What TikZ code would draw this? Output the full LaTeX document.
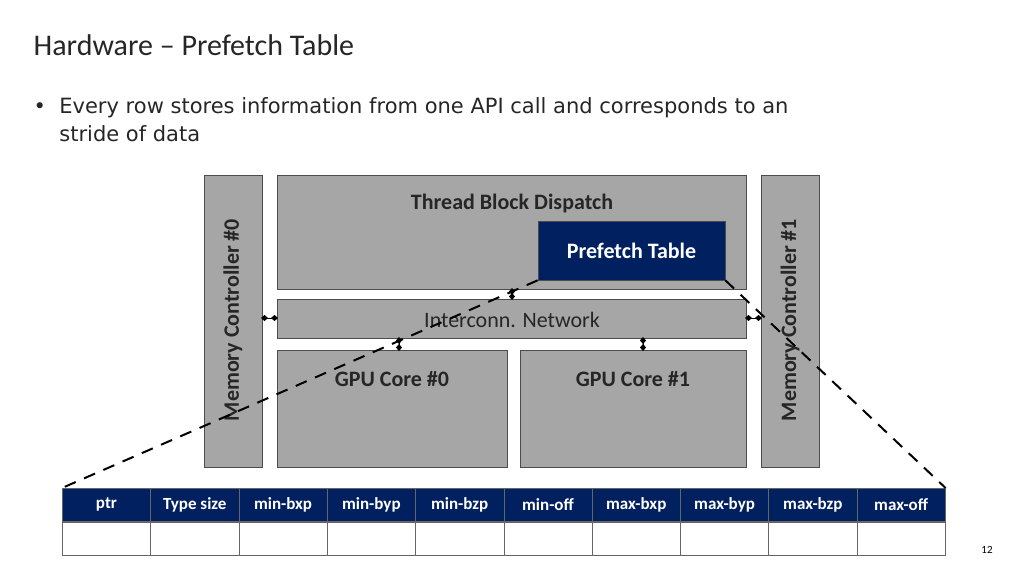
\documentclass[tikz,border=0pt]{standalone}
\usepackage{fontspec}
\setmainfont{Carlito}
\newfontfamily\bodyfont{DejaVu Sans}
\usetikzlibrary{positioning, arrows.meta}
\definecolor{boxgray}{RGB}{166,166,166}
\definecolor{navyblue}{RGB}{0,32,96}
\definecolor{titlegray}{RGB}{38,38,38}

\begin{document}
\begin{tikzpicture}[x=1pt, y=-1pt, semithick,
                block/.style ={draw=black!70, fill=boxgray, line width=0.8pt},
                blabel/.style ={font=\fontsize{22}{24}\selectfont\bfseries, text=black!85},
                link/.style ={{Diamond[length=7pt,width=6pt]}-{Diamond[length=7pt,width=6pt]}, line width=0.8pt, shorten <=-1pt, shorten >=-1pt},
                cell/.style ={draw=black!60, minimum width=88.3pt, minimum height=33pt, inner sep=0pt}]
            \useasboundingbox (0,0) rectangle (1024,576);

            % title and bullet
            \node[anchor=west, text=titlegray, font=\fontsize{30}{32}\selectfont] (title) at (30,45) {Hardware -- Prefetch Table};
            \node[anchor=north west, font=\bodyfont\fontsize{21}{28}\selectfont, text=titlegray, align=left] (bullet) at (30,94)
                {\textbullet\ \ Every row stores information from one API call and corresponds to an\\ \phantom{\textbullet\ \ }stride of data};

            % blocks
            \draw[block] (204,175) rectangle (262,467) coordinate (mc0c);
            \node[blabel, rotate=90] (mc0) at (233,320) {Memory Controller \#0};
            \draw[block] (761,175) rectangle (819,467);
            \node[blabel, rotate=90] (mc1) at (790,320) {Memory Controller \#1};
            \draw[block] (277,175) rectangle (746,289);
            \node[blabel] (tbd) at (512,204) {Thread Block Dispatch};
            \draw[block] (277,299) rectangle (746,338);
            \node[font=\fontsize{22}{24}\selectfont, text=black!85] (net) at (512,320) {Interconn. Network};
            \draw[block] (277,350) rectangle (507,467);
            \node[blabel] (core0) at (392,379) {GPU Core \#0};
            \draw[block] (520,350) rectangle (746,467);
            \node[blabel] (core1) at (633,379) {GPU Core \#1};
            \node[draw=black!70, fill=navyblue, text=white, font=\fontsize{22}{24}\selectfont\bfseries,
                  minimum width=187pt, minimum height=59pt, inner sep=0pt] (pt) at (631.5,250.5) {Prefetch Table};

            % links
            \coordinate (l0a) at (262,318); \coordinate (l0b) at (277,318);
            \coordinate (l1a) at (746,318); \coordinate (l1b) at (761,318);
            \coordinate (ta) at (512,289); \coordinate (tb) at (512,299);
            \coordinate (c0a) at (399,338); \coordinate (c0b) at (399,350);
            \coordinate (c1a) at (643,338); \coordinate (c1b) at (643,350);
            \draw[link] (l0a) -- (l0b);
            \draw[link] (l1a) -- (l1b);
            \draw[link] (ta) -- (tb);
            \draw[link] (c0a) -- (c0b);
            \draw[link] (c1a) -- (c1b);

            % table
            \foreach \lbl [count=\i from 0] in {ptr,Type size,min-bxp,min-byp,min-bzp,min-off,max-bxp,max-byp,max-bzp,max-off} {
                \node[cell, fill=navyblue, text=white, font=\fontsize{17}{19}\selectfont\bfseries, anchor=north west] (h\i) at (62+88.3*\i,488) {\lbl};
                \node[cell, fill=white, anchor=north] (r\i) at (h\i.south) {};
            }

            % zoom lines
            \draw[dashed, line width=2pt, dash pattern=on 12pt off 9pt] (pt.south west) -- (h0.north west);
            \draw[dashed, line width=2pt, dash pattern=on 12pt off 9pt] (pt.south east) -- (h9.north east);

            \node[font=\fontsize{11}{12}\selectfont] (page) at (987,550) {12};
\end{tikzpicture}
\end{document}
